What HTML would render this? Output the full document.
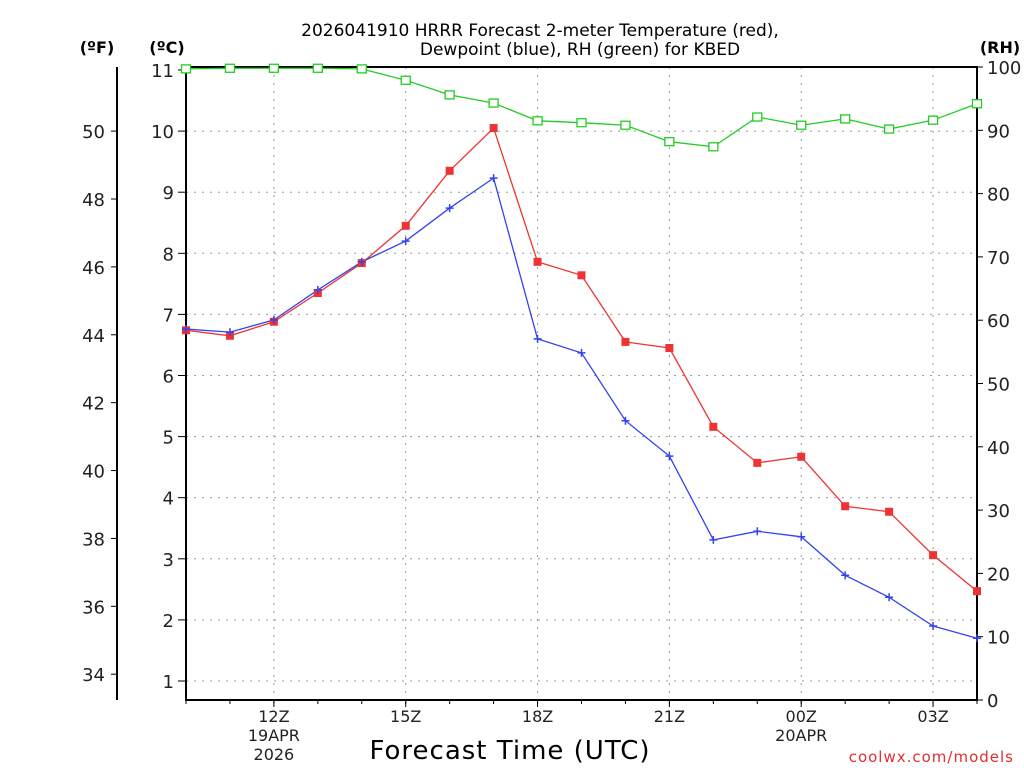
<!DOCTYPE html>
<html><head><meta charset="utf-8"><style>
html,body{margin:0;padding:0;background:#fff}
svg{display:block;font-family:"DejaVu Sans","Liberation Sans",sans-serif}
</style></head><body>
<svg id="c" width="1024" height="768" viewBox="0 0 1024 768">
<g id="grid"></g>
<g id="axes"></g>
<g id="series"></g>
<text x="540" y="36" text-anchor="middle" font-size="17" fill="#000">2026041910 HRRR Forecast 2-meter Temperature (red),</text>
<text x="580" y="55" text-anchor="middle" font-size="17" fill="#000">Dewpoint (blue), RH (green) for KBED</text>
<text x="97" y="53" text-anchor="middle" font-size="16" font-weight="bold">(ºF)</text>
<text x="167" y="53" text-anchor="middle" font-size="16" font-weight="bold">(ºC)</text>
<text x="1000" y="53" text-anchor="middle" font-size="16" font-weight="bold">(RH)</text>
<text x="510" y="759" text-anchor="middle" font-size="26" letter-spacing="1">Forecast Time (UTC)</text>
<text x="1014" y="762" text-anchor="end" font-size="15" fill="#e03030" letter-spacing="1">coolwx.com/models</text>
</svg>
<script>
const hours=[10,11,12,13,14,15,16,17,18,19,20,21,22,23,24,25,26,27,28];
const tempC=[6.74,6.65,6.88,7.35,7.84,8.45,9.35,10.05,7.86,7.64,6.55,6.45,5.16,4.57,4.67,3.86,3.77,3.06,2.47];
const dewC=[6.76,6.71,6.91,7.40,7.86,8.20,8.74,9.23,6.60,6.37,5.26,4.68,3.31,3.45,3.36,2.73,2.37,1.90,1.70];
const rh=[99.7,99.8,99.8,99.8,99.7,97.9,95.6,94.3,91.5,91.2,90.8,88.2,87.4,92.1,90.8,91.8,90.2,91.6,94.2];
const cTicks=[1,2,3,4,5,6,7,8,9,10,11];
const fTicks=[34,36,38,40,42,44,46,48,50];
const rhTicks=[0,10,20,30,40,50,60,70,80,90,100];
const xTickHours=[12,15,18,21,24,27];
const xTickLabels=["12Z","15Z","18Z","21Z","00Z","03Z"];
const xSubLabels=[["19APR","2026"],[],[],[],["20APR"],[]];

const L=186,R=977,T=67,B=700;
const X=h=>L+(h-10)*(R-L)/18;
const YC=c=>70+(11-c)*61.1;
const YF=f=>YC((f-32)/1.8);
const YR=r=>B-r*(B-T)/100;
const NS="http://www.w3.org/2000/svg";
function mk(p,t,a){const e=document.createElementNS(NS,t);for(const k in a)e.setAttribute(k,a[k]);p.appendChild(e);return e;}
const grid=document.getElementById('grid'),axes=document.getElementById('axes'),ser=document.getElementById('series');

cTicks.forEach(c=>{const y=YC(c);
 if(c<11){const g=mk(grid,'line',{x1:L,x2:R,y1:y,y2:y,stroke:'#999','stroke-dasharray':'2,6'});
 
 }
 mk(axes,'line',{x1:L-8,x2:L,y1:y,y2:y,stroke:'#000'});
 const t=mk(axes,'text',{x:L-12,y:y+7,'text-anchor':'end','font-size':18,fill:'#222'});t.textContent=c;
 
 });
fTicks.forEach(f=>{const y=YF(f);
 mk(axes,'line',{x1:111,x2:117,y1:y,y2:y,stroke:'#000'});
 const t=mk(axes,'text',{x:105,y:y+7,'text-anchor':'end','font-size':18,fill:'#222'});t.textContent=f;
 
 });
rhTicks.forEach(r=>{const y=YR(r);
 mk(axes,'line',{x1:R,x2:R+6,y1:y,y2:y,stroke:'#000'});
 const t=mk(axes,'text',{x:R+10,y:y+7,'text-anchor':'start','font-size':18,fill:'#222'});t.textContent=r;
 
 });
xTickHours.forEach((h,i)=>{const x=X(h);
 const g=mk(grid,'line',{x1:x,x2:x,y1:T,y2:B,stroke:'#999','stroke-dasharray':'2,6'});
 
 
 mk(axes,'line',{x1:x,x2:x,y1:B,y2:B+7,stroke:'#000'});
 const t=mk(axes,'text',{x:x,y:722,'text-anchor':'middle','font-size':16,fill:'#222'});t.textContent=xTickLabels[i];
 
 
 xSubLabels[i].forEach((s,j)=>{const u=mk(axes,'text',{x:x,y:741+j*19,'text-anchor':'middle','font-size':16,fill:'#222'});u.textContent=s;
 
 });});
for(let h=10;h<=28;h++){mk(axes,'line',{x1:X(h),x2:X(h),y1:B,y2:B+4,stroke:'#000'});}
mk(axes,'rect',{x:L,y:T,width:R-L,height:B-T,fill:'none',stroke:'#000','stroke-width':2});
mk(axes,'line',{x1:117,x2:117,y1:T,y2:B,stroke:'#000','stroke-width':2});

function line(vals,yf,col,name){const pts=vals.map((v,i)=>X(hours[i])+','+yf(v)).join(' ');
 const p=mk(ser,'polyline',{points:pts,fill:'none',stroke:col,'stroke-width':1.3});
 
 }
line(rh,YR,'#22cc22','rh-line');
line(tempC,YC,'#ee3333','temperature-line');
line(dewC,YC,'#3344ee','dewpoint-line');
rh.forEach((v,i)=>{const m=mk(ser,'rect',{x:X(hours[i])-4.5,y:YR(v)-4,width:9,height:8,fill:'#fff',stroke:'#22cc22','stroke-width':1.3});
 
 });
tempC.forEach((v,i)=>{const m=mk(ser,'rect',{x:X(hours[i])-4,y:YC(v)-4,width:8,height:8,fill:'#ee3333'});
 
 });
dewC.forEach((v,i)=>{const x=X(hours[i]),y=YC(v);
 const m=mk(ser,'path',{d:`M${x-4},${y}H${x+4}M${x},${y-4}V${y+4}`,stroke:'#3344ee','stroke-width':1.5});
 
 });
</script>
</body></html>
